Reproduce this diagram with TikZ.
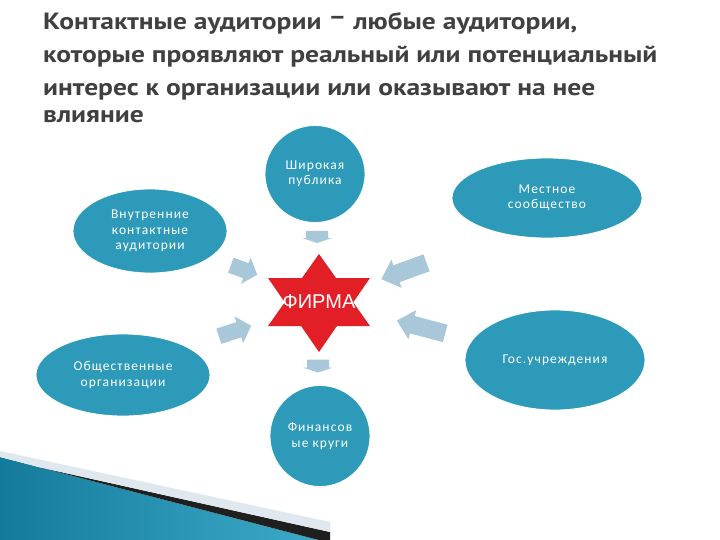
\documentclass[tikz,border=0pt]{standalone}
\usepackage{fontspec}
\setmainfont{PT Sans}
\newfontfamily\titlefont[FakeStretch=1.17]{PT Sans}
\newfontfamily\ellfont[LetterSpace=8]{Carlito}
\newfontfamily\firmfont{Liberation Sans}
\usetikzlibrary{shapes.geometric}
\definecolor{tealc}{RGB}{46,154,186}
\definecolor{arrowc}{RGB}{168,199,217}
\definecolor{starred}{RGB}{226,30,38}
\definecolor{titlec}{RGB}{64,64,64}
\definecolor{tealdark}{RGB}{20,122,155}
\definecolor{teallight}{RGB}{62,172,204}
\definecolor{bandc}{RGB}{222,232,238}
\tikzset{
  titleline/.style={anchor=base west, inner sep=0pt, text=titlec, font=\titlefont\bfseries\fontsize{23.5}{27}\selectfont},
  ellnode/.style={ellipse, fill=tealc, draw=white, line width=0.8pt, inner sep=0pt, text=white, align=center,
    font=\ellfont\fontsize{13.5}{15.5}\selectfont},
  arrowfill/.style={fill=arrowc},
}
\newcommand{\blockarrow}[8]{% name, cx, cy, angle, L, w, W, h
  \begin{scope}[shift={(#2,#3)}, rotate=#4]
    \fill[arrowfill] (-#5/2,-#6/2) -- (#5/2-#8,-#6/2) -- (#5/2-#8,-#7/2) -- (#5/2,0) -- (#5/2-#8,#7/2) -- (#5/2-#8,#6/2) -- (-#5/2,#6/2) -- cycle;
    \coordinate (#1) at (0,0);
  \end{scope}}
\begin{document}
\begin{tikzpicture}[x=1pt,y=-1pt]
\useasboundingbox (0,0) rectangle (720,540);
\fill[white] (0,0) rectangle (720,540);

% bottom-left decoration
\shade[left color=tealdark, right color=teallight] (0,457) -- (330,543) -- (330,545) -- (0,545) -- cycle;
\fill[black!88] (40,467.4) -- (330,543) -- (330,532) -- cycle;
\fill[bandc] (0,451) -- (0,457) -- (40,467.4) -- (330,532) -- (330,522) -- cycle;

% title
\node[titleline] (t1) at (43,30) {Контактные аудитории \raisebox{5pt}{–} любые аудитории,};
\node[titleline] (t2) at (43,63) {которые проявляют реальный или потенциальный};
\node[titleline] (t3) at (43,96) {интерес к организации или оказывают на нее};
\node[titleline] (t4) at (43,123) {влияние};

% ellipses
\node[ellnode, minimum width=100, minimum height=97] (shir) at (315,174) {Широкая\\публика};
\node[ellnode, minimum width=190, minimum height=80] (mest) at (547,198) {Местное\\сообщество};
\node[ellnode, minimum width=154, minimum height=84] (vnut) at (150,231) {Внутренние\\контактные\\аудитории};
\node[ellnode, minimum width=174, minimum height=82] (obsh) at (123,375) {Общественные\\организации};
\node[ellnode, minimum width=180, minimum height=100] (gos) at (555,360) {Гос.учреждения};
\node[ellnode, minimum width=100, minimum height=101] (fin) at (320,436) {Финансов\\ые круги};

% star
\fill[starred] (319,254) -- (268,326) -- (370,326) -- cycle;
\fill[starred] (319,352) -- (268,278) -- (370,278) -- cycle;
\node[inner sep=0pt, text=white, font=\firmfont\fontsize{20}{22}\selectfont] (firm) at (319,302) {ФИРМА};

% arrows
\blockarrow{a1}{317}{237}{-90}{12}{22}{30}{5}
\blockarrow{a2}{318}{366}{-90}{13}{22}{30}{5}
\blockarrow{a3}{244}{270}{-20}{28}{16}{28}{12}
\blockarrow{a4}{235}{331}{18}{34}{16}{28}{13}
\blockarrow{a5}{404}{271}{200}{48}{18}{30}{16}
\blockarrow{a6}{421}{327}{165}{50}{18}{30}{16}
\end{tikzpicture}
\end{document}
